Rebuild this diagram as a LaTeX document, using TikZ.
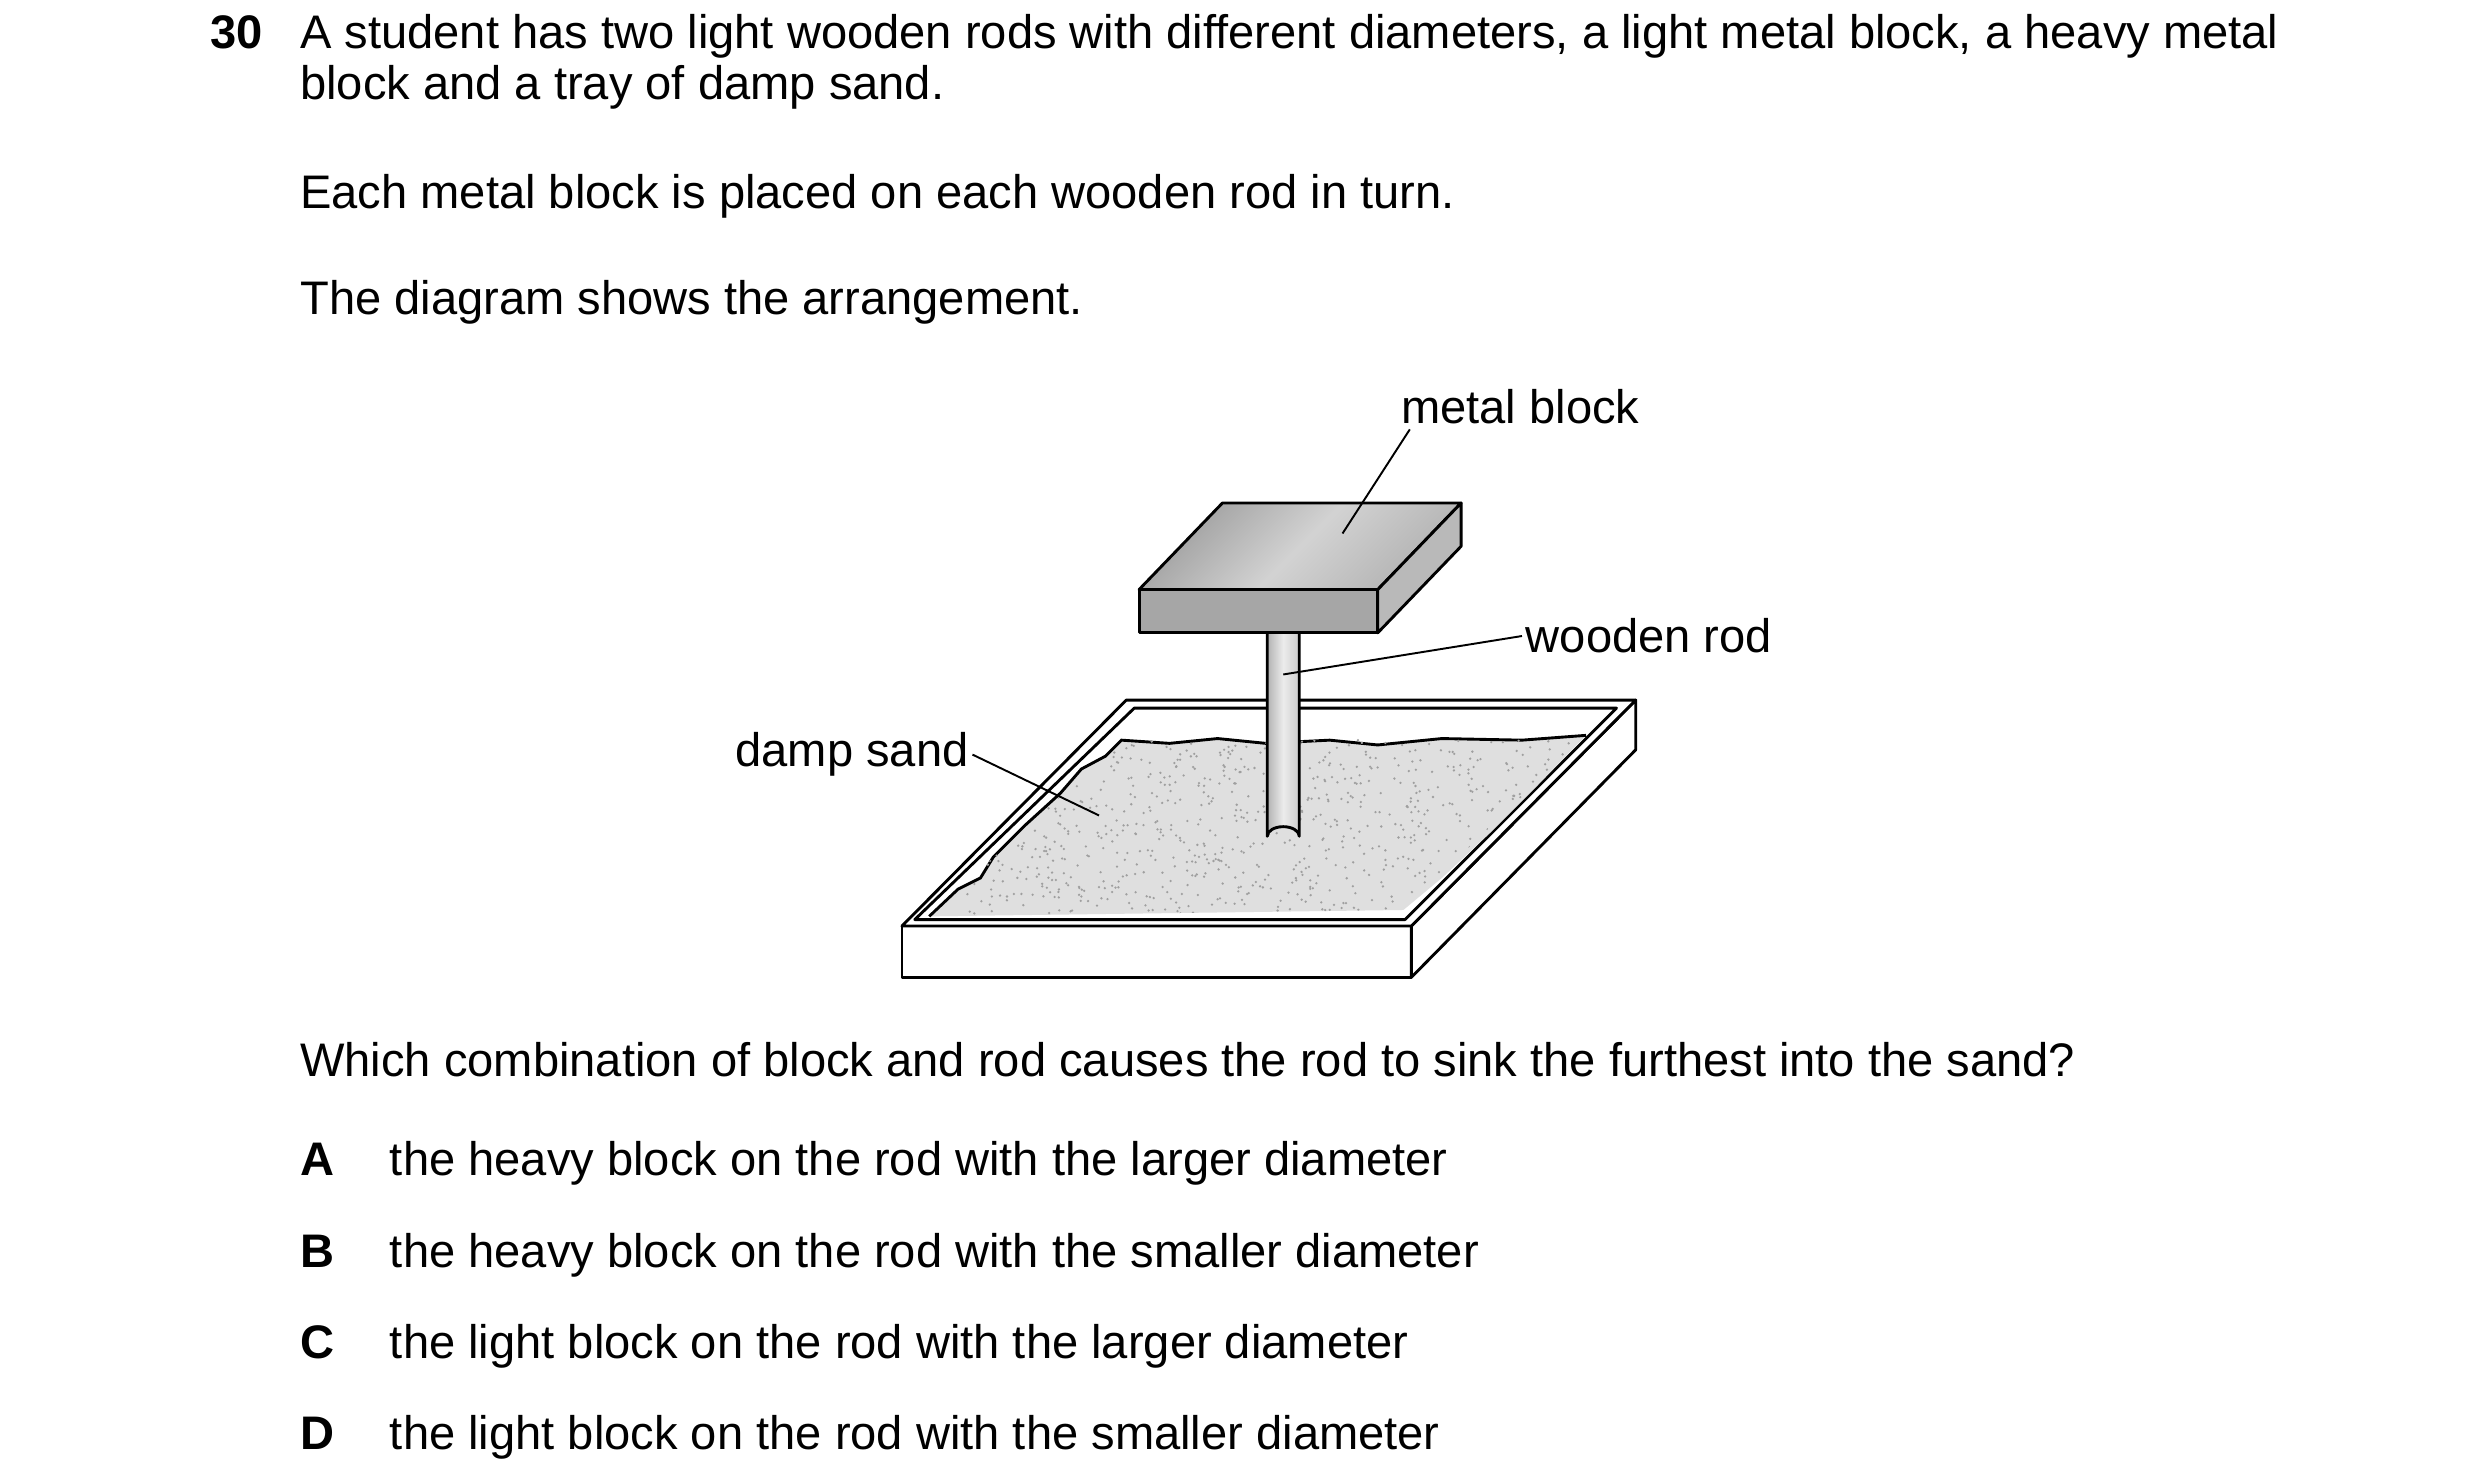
\documentclass[tikz,border=0pt]{standalone}
\usepackage{fontspec}
\setmainfont{Liberation Sans}
\begin{document}
\begin{tikzpicture}[x=0.5pt,y=-0.5pt,
  txt/.style={anchor=base west, inner sep=0pt, font=\fontsize{14.7}{17}\selectfont},
  lbl/.style={inner sep=1pt, font=\fontsize{14.7}{17}\selectfont},
  edge/.style={draw=black, line width=0.9pt, line join=round}]
\useasboundingbox (0,0) rectangle (1548,925);
% question text
\node[txt, font=\fontsize{14.7}{17}\selectfont\bfseries] (num) at (131,30) {30};
\node[txt] (l1) at (187,30) {A student has two light wooden rods with different diameters, a light metal block, a heavy metal};
\node[txt] (l2) at (187,62) {block and a tray of damp sand.};
\node[txt] (l3) at (187,130) {Each metal block is placed on each wooden rod in turn.};
\node[txt] (l4) at (187,196) {The diagram shows the arrangement.};
\node[txt] (q) at (187,672) {Which combination of block and rod causes the rod to sink the furthest into the sand?};
\foreach \k/\yy/\t in {A/734/the heavy block on the rod with the larger diameter,
  B/791/the heavy block on the rod with the smaller diameter,
  C/848/the light block on the rod with the larger diameter,
  D/905/the light block on the rod with the smaller diameter}{
  \node[txt, font=\fontsize{14.7}{17}\selectfont\bfseries] (opt\k) at (187,\yy) {\k};
  \node[txt] (ans\k) at (243,\yy) {\t};
}
% tray
\draw[edge, fill=white] (563,578) rectangle (881,610);
\draw[edge, fill=white] (881,578) -- (1021,437) -- (1021,468) -- (881,610) -- cycle;
\draw[edge, fill=white] (563,578) -- (703,437) -- (1021,437) -- (881,578) -- cycle;
\draw[edge, fill=white] (571,574) -- (708,442) -- (1009,442) -- (877,574) -- cycle;
% sand
\path[fill=gray!25] (580,572) -- (598,555) -- (612,548) -- (620,535) -- (640,515) -- (662,495)
  -- (675,480) -- (690,472) -- (700,462) -- (730,464) -- (760,461) -- (790,464) -- (830,462)
  -- (860,465) -- (900,461) -- (950,462) -- (990,459) -- (960,490) -- (930,520) -- (900,548)
  -- (876,568) -- cycle;
\draw[line width=0.9pt] (580,572) -- (598,555) -- (612,548) -- (620,535) -- (640,515) -- (662,495)
  -- (675,480) -- (690,472) -- (700,462) -- (730,464) -- (760,461) -- (790,464) -- (830,462)
  -- (860,465) -- (900,461) -- (950,462) -- (990,459);
\begin{scope}
\clip (580,572) -- (700,462) -- (990,459) -- (876,568) -- cycle;
\pgfmathsetseed{7}
\foreach \i in {1,...,900}{
  \pgfmathsetmacro{\px}{600+rnd*390}
  \pgfmathsetmacro{\py}{462+rnd*110}
  \fill[gray!75] (\px,\py) circle (0.8);
}
\end{scope}
% rod
\shade[left color=gray!60, right color=gray!40, middle color=gray!15] (791,395) -- (791,522) arc (180:360:10 and 6) -- (811,395) -- cycle;
\draw[edge] (791,395) -- (791,522) arc (180:360:10 and 6) -- (811,395);
% block
\shade[left color=gray!75, right color=gray!60, middle color=gray!35, shading angle=45] (711,368) -- (763,314) -- (912,314) -- (860,368) -- cycle;
\draw[edge] (711,368) -- (763,314) -- (912,314) -- (860,368) -- cycle;
\draw[edge, fill=gray!70] (711,368) rectangle (860,395);
\draw[edge, fill=gray!55] (860,368) -- (912,314) -- (912,341) -- (860,395) -- cycle;
% labels
\node[lbl] (mb) at (949,254) {metal block};
\coordinate (mbend) at (838,333);
\draw[line width=0.6pt] (880,268) -- (mbend);
\node[lbl, anchor=west] (wr) at (950,397) {wooden rod};
\coordinate (wrend) at (801,421);
\draw[line width=0.6pt] (wr.west) -- (wrend);
\node[lbl, anchor=east] (ds) at (607,471) {damp sand};
\coordinate (dsend) at (686,509);
\draw[line width=0.6pt] (ds.east) -- (dsend);
\end{tikzpicture}
\end{document}
